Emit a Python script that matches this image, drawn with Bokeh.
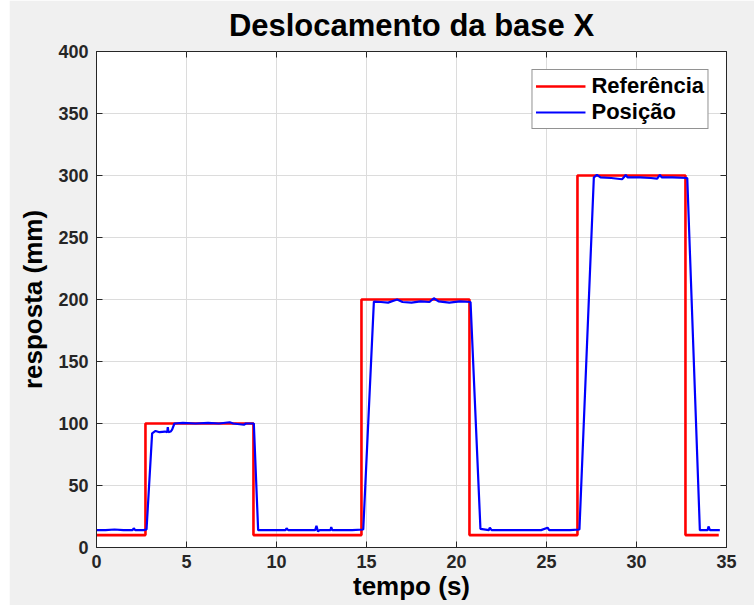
from bokeh.plotting import figure
from bokeh.models import (Range1d, FixedTicker, LinearAxis, Legend, LegendItem,
                          CustomLabelingPolicy)
from bokeh.embed import file_html
from bokeh.resources import INLINE

# ---------------- data ----------------
x_ticks = [0, 5, 10, 15, 20, 25, 30, 35]
y_ticks = [0, 50, 100, 150, 200, 250, 300, 350, 400]

# Reference (step, value holds until the next time)
ref_t = [0.0, 2.72, 8.72, 14.72, 20.72, 26.72, 32.72, 34.57]
ref_v = [10, 100, 10, 200, 10, 300, 10, 10]

pos_t = [0.0, 0.5, 1.0, 1.5, 2.0, 2.07, 2.15, 2.6, 2.78, 3.09, 3.28, 3.5, 3.8, 3.93,
         3.96, 4.0, 4.12, 4.2, 4.33, 4.8, 5.5, 6.2, 6.8, 7.4, 7.6, 8.19, 8.3, 8.74,
         8.98, 9.5, 10.0, 10.5, 10.56, 10.65, 11.5, 12.15, 12.22, 12.3, 12.4, 13.0,
         13.04, 13.1, 13.6, 14.2, 14.82, 15.41, 15.8, 16.2, 16.7, 17.0, 17.5, 18.0,
         18.5, 18.74, 19.0, 19.6, 20.2, 20.78, 21.33, 21.8, 21.85, 21.95, 22.5, 23.2,
         24.0, 24.7, 25.06, 25.15, 25.8, 26.3, 26.83, 27.63, 27.8, 28.0, 28.6, 29.2,
         29.3, 29.4, 29.5, 30.2, 30.8, 31.15, 31.3, 31.4, 32.0, 32.82, 33.52, 33.8,
         33.95, 34.0, 34.08, 34.63]
pos_v = [14, 14, 14.5, 14, 14, 15.5, 14, 14, 14.5, 92, 94, 93, 93.5, 93,
         97, 93, 93.5, 95, 100, 100.5, 100, 100.5, 100, 101, 100, 99, 100, 100,
         14, 14, 14, 14, 15.5, 14, 14, 14, 17.5, 13, 14, 14,
         16.5, 14, 14, 14, 14.5, 198.3, 198, 197.5, 200, 198, 197.5, 198.5,
         198, 201, 198.5, 197.5, 198.5, 198, 15, 14, 16, 14, 14, 14,
         14, 14, 16, 14, 14, 14, 14.5, 298.5, 300.5, 298.5, 298, 297,
         298.5, 300.5, 298.5, 298.5, 298, 297.5, 300.5, 298.5, 298.5, 298, 14, 14,
         14, 17, 14, 14]

series_names = ["Referência", "Posição"]
title_text = "Deslocamento da base X"
x_label = "tempo (s)"
y_label = "resposta (mm)"

# ---------------- figure ----------------
FONT = "Liberation Sans"
INK = "#262626"

p = figure(width=745, height=605, margin=(0, 0, 0, 9),
           x_range=Range1d(0, 35), y_range=Range1d(0, 400),
           output_backend="svg", toolbar_location=None,
           min_border_left=87, min_border_right=28,
           min_border_top=50, min_border_bottom=58,
           background_fill_color="white", border_fill_color="#f0f0f0",
           title=title_text)

p.title.align = "center"
p.title.text_font = FONT
p.title.text_font_size = "31px"
p.title.text_font_style = "bold"
p.title.text_color = "black"
p.title.standoff = 10

p.outline_line_color = INK
p.outline_line_width = 1
p.outline_line_alpha = 1

for ax, ticks in ((p.xaxis, x_ticks), (p.yaxis, y_ticks)):
    ax.ticker = FixedTicker(ticks=ticks)
    ax.major_tick_in = 6
    ax.major_tick_out = 0
    ax.minor_tick_line_color = None
    ax.axis_line_color = INK
    ax.major_tick_line_color = INK
    ax.major_label_text_font = FONT
    ax.major_label_text_font_style = "bold"
    ax.major_label_text_font_size = "18px"
    ax.major_label_text_color = INK
    ax.axis_label_text_font = FONT
    ax.axis_label_text_font_style = "bold"
    ax.axis_label_text_font_size = "26px"
    ax.axis_label_text_color = "black"

p.xaxis.axis_label = x_label
p.yaxis.axis_label = y_label
p.xaxis.major_label_standoff = 7
p.xaxis.axis_label_standoff = 0
p.yaxis.major_label_standoff = 8
p.yaxis.axis_label_standoff = 7

# ticks on top and right (no labels)
no_labels = CustomLabelingPolicy(code="return new Set()")
for side, ticks in (("above", x_ticks), ("right", y_ticks)):
    a = LinearAxis(ticker=FixedTicker(ticks=ticks), major_tick_in=6, major_tick_out=0,
                   minor_tick_line_color=None, axis_line_color=None,
                   major_tick_line_color=INK,
                   major_label_policy=no_labels,
                   major_label_text_font_size="1px",
                   major_label_standoff=0)
    p.add_layout(a, side)

p.xgrid.ticker = FixedTicker(ticks=x_ticks)
p.ygrid.ticker = FixedTicker(ticks=y_ticks)
p.grid.grid_line_color = "#dcdcdc"
p.grid.grid_line_width = 1

r_ref = p.step(ref_t, ref_v, mode="after", line_color="#ff0000", line_width=2.6)
r_pos = p.line(pos_t, pos_v, line_color="#0000ff", line_width=2.2)

legend = Legend(items=[LegendItem(label=series_names[0], renderers=[r_ref]),
                       LegendItem(label=series_names[1], renderers=[r_pos])],
                location="top_right", margin=18, padding=3, spacing=0,
                glyph_width=50, glyph_height=20, label_height=20, label_standoff=6,
                label_text_font=FONT, label_text_font_style="bold",
                label_text_font_size="22px", label_text_color="black",
                label_text_line_height=1.0,
                border_line_color=INK, border_line_width=1,
                background_fill_color="white", background_fill_alpha=1)
p.add_layout(legend, "center")

open("out.html", "w").write(file_html(p, INLINE))
